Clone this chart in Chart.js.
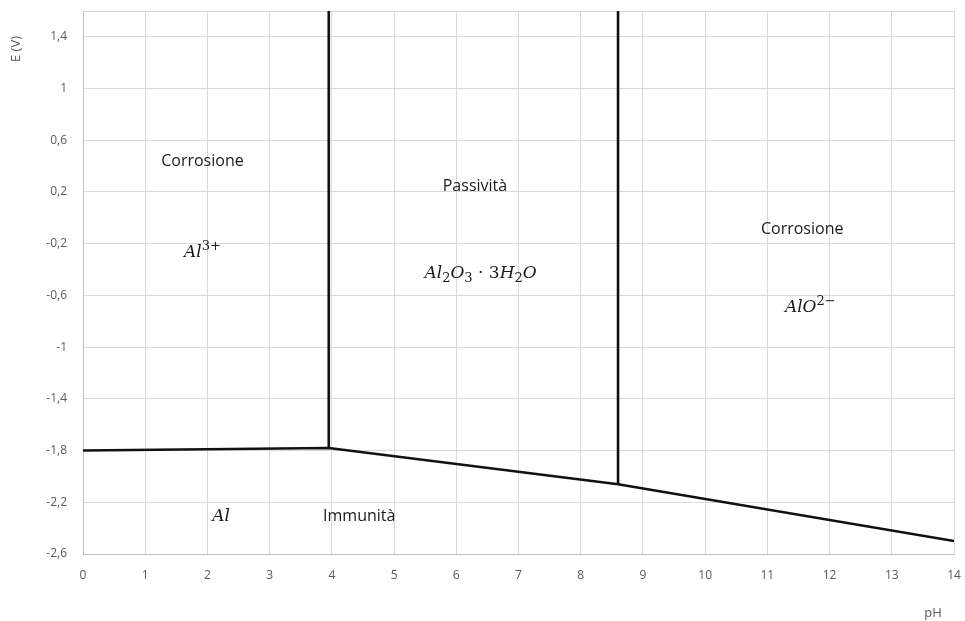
<!DOCTYPE html>
<html>
<head>
<meta charset="utf-8">
<script src="https://cdn.jsdelivr.net/npm/chart.js@4/dist/chart.umd.min.js"></script>
<style>
  html, body { margin: 0; padding: 0; background: #fff; }
  #wrap { width: 965px; height: 621px; }
</style>
</head>
<body>
<div id="wrap"><canvas id="pourbaix" width="965" height="621"></canvas></div>
<script>
// Al - Pourbaix diagram (pH vs E)
var phLimit = [0, 14];
var eLimit = [-2.6, 1.6];
var eTicks = [-2.6, -2.2, -1.8, -1.4, -1, -0.6, -0.2, 0.2, 0.6, 1, 1.4];

// lower boundary Al / oxidized species
var basePh = [0, 3.95, 8.6, 14];
var baseE = [-1.8, -1.78, -2.06, -2.5];

// vertical boundaries Al3+ | Al2O3 | AlO2-
var wallOnePh = [3.95, 3.95];
var wallOneE = [-1.78, 1.6];
var wallTwoPh = [8.6, 8.6];
var wallTwoE = [-2.06, 1.6];

// region names
var regionText = ["Corrosione", "Passività", "Corrosione", "Immunità"];
var regionPh = [1.92, 6.3, 11.56, 4.44];
var regionE = [0.44, 0.246, -0.086, -2.306];

// species (letters italic, sub/sup parts flagged)
var speciesParts = [
	[["Al", 0], ["3+", 1]],
	[["Al", 0], ["2", -1], ["O", 0], ["3", -1], [" · 3", 0], ["H", 0], ["2", -1], ["O", 0]],
	[["AlO", 0], ["2−", 1]],
	[["Al", 0]]
];
var speciesPh = [1.92, 6.39, 11.69, 2.22];
var speciesE = [-0.27, -0.434, -0.697, -2.314];

function toXY(xs, ys) {
	var out = [];
	for (var i = 0; i < xs.length; i++) {
		out.push({x: xs[i], y: ys[i]});
	}
	return out;
}

function lineSet(xs, ys) {
	return {
		data: toXY(xs, ys),
		showLine: true,
		borderColor: '#111111',
		borderWidth: 2.6,
		pointRadius: 0,
		pointHoverRadius: 0,
		fill: false,
		tension: 0
	};
}

function commaNum(v) {
	return String(v).replace('.', ',');
}

var labelFont = '"Open Sans", "Liberation Sans", sans-serif';

var annotations = {
	id: 'annotations',
	afterDatasetsDraw: function(chart) {
		var ctx = chart.ctx;
		var xs = chart.scales.x, ys = chart.scales.y;
		ctx.save();
		ctx.textBaseline = 'middle';
		ctx.textAlign = 'center';
		ctx.fillStyle = '#1a1a1a';
		ctx.font = '16px ' + labelFont;
		for (var i = 0; i < regionText.length; i++) {
			ctx.fillText(regionText[i], xs.getPixelForValue(regionPh[i]), ys.getPixelForValue(regionE[i]));
		}

		// formulas: measure first, then draw left to right
		ctx.textAlign = 'left';
		for (var j = 0; j < speciesParts.length; j++) {
			var parts = speciesParts[j];
			var total = 0;
			for (var k = 0; k < parts.length; k++) {
				ctx.font = partFont(parts[k]);
				total += ctx.measureText(parts[k][0]).width;
			}
			var px = xs.getPixelForValue(speciesPh[j]) - total / 2;
			var py = ys.getPixelForValue(speciesE[j]);
			for (var m = 0; m < parts.length; m++) {
				ctx.font = partFont(parts[m]);
				var shift = parts[m][1] === 1 ? -6 : (parts[m][1] === -1 ? 5 : 0);
				ctx.fillText(parts[m][0], px, py + shift);
				px += ctx.measureText(parts[m][0]).width;
			}
		}

		// axis titles
		ctx.fillStyle = '#595959';
		ctx.font = '13px ' + labelFont;
		ctx.textAlign = 'center';
		ctx.fillText('pH', 933, 613);
		ctx.translate(16, 49);
		ctx.rotate(-Math.PI / 2);
		ctx.fillText('E (V)', 0, 0);
		ctx.restore();
	}
};

function partFont(p) {
	var size = p[1] === 0 ? 17 : 13;
	var style = /[A-Za-z]/.test(p[0]) ? 'italic ' : '';
	return style + size + 'px "DejaVu Serif", "Liberation Serif", serif';
}

new Chart(document.getElementById('pourbaix'), {
	type: 'scatter',
	data: {
		datasets: [
			lineSet(basePh, baseE),
			lineSet(wallOnePh, wallOneE),
			lineSet(wallTwoPh, wallTwoE)
		]
	},
	options: {
		responsive: false,
		animation: false,
		events: [],
		layout: {padding: {top: 11, right: 11, left: 0, bottom: 0}},
		plugins: {
			legend: {display: false},
			tooltip: {enabled: false}
		},
		scales: {
			x: {
				type: 'linear',
				min: phLimit[0],
				max: phLimit[1],
				ticks: {
					stepSize: 1,
					color: '#595959',
					font: {family: labelFont, size: 12},
					padding: 14,
					maxRotation: 0
				},
				grid: {color: '#d9d9d9', lineWidth: 1, drawTicks: false},
				border: {color: '#bfbfbf'},
				afterFit: function(s) {
					s.height = 67;
					s.paddingLeft = 0;
					s.paddingRight = 0;
				}
			},
			y: {
				type: 'linear',
				min: eLimit[0],
				max: eLimit[1],
				afterBuildTicks: function(s) {
					var t = eTicks.map(function(v) { return {value: v}; });
					t.push({value: eLimit[1]});
					s.ticks = t;
				},
				ticks: {
					color: '#595959',
					font: {family: labelFont, size: 12},
					padding: 16,
					callback: function(v) {
						return v === eLimit[1] ? '' : commaNum(v);
					}
				},
				grid: {color: '#d9d9d9', lineWidth: 1, drawTicks: false},
				border: {color: '#bfbfbf'},
				afterFit: function(s) {
					s.width = 83;
					s.paddingTop = 0;
					s.paddingBottom = 0;
				}
			}
		}
	},
	plugins: [annotations]
});
</script>
</body>
</html>
